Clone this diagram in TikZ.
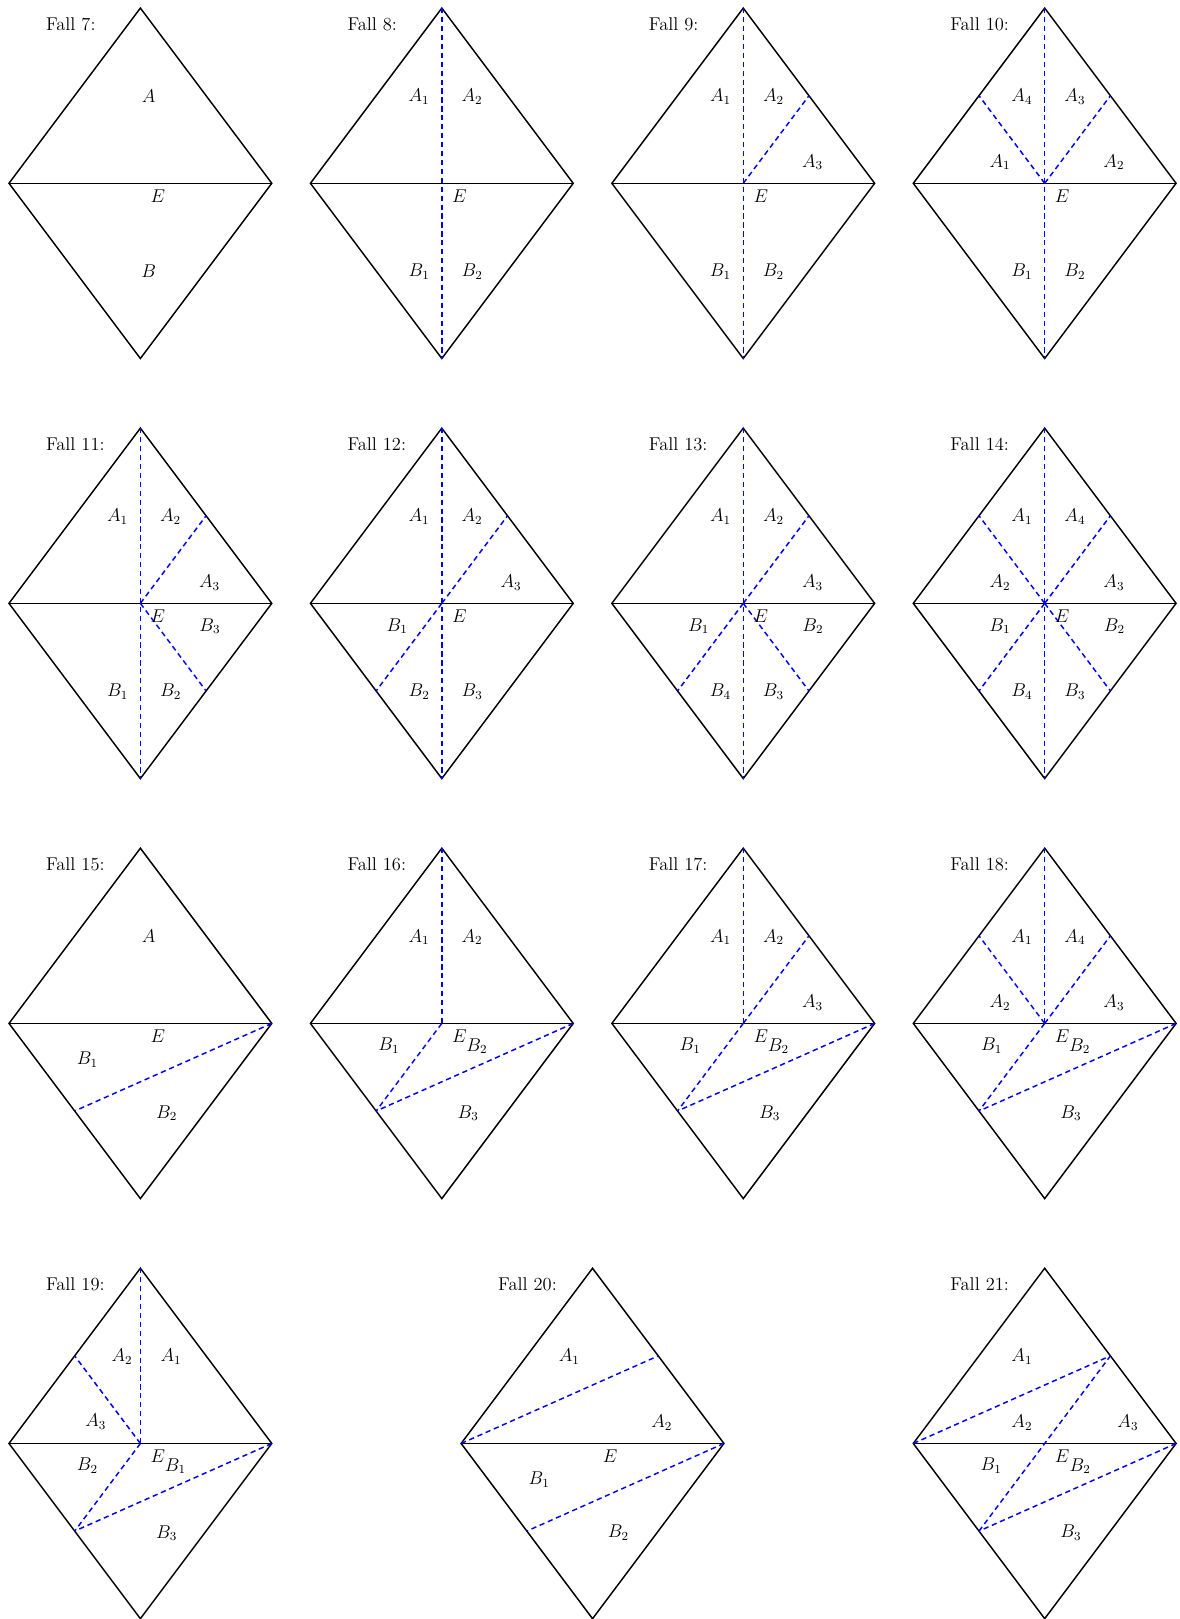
\documentclass[tikz,border=0pt]{standalone}
\usepackage{amsmath}
\usepackage{xcolor}
\usepackage{tikz}
\usetikzlibrary{calc}

% frame of one case: corners, centre, edge midpoints, outline and title
\newcommand{\falldiamond}[1]{%
    \coordinate (L) at (-3,0);
    \coordinate (T) at (0,4);
    \coordinate (R) at (3,0);
    \coordinate (D) at (0,-4);
    \coordinate (E) at (0,0);
    \coordinate (UL) at ($(L)!0.5!(T)$);
    \coordinate (UR) at ($(T)!0.5!(R)$);
    \coordinate (LL) at ($(L)!0.5!(D)$);
    \coordinate (LR) at ($(D)!0.5!(R)$);
    \draw[outline] (L) -- (T) -- (R) -- (D) -- cycle;
    \draw[outline] (L) -- (R);
    \node[falltitle] (title#1) at (-2.16,3.5) {Fall #1:};
}

\begin{document}
\begin{tikzpicture}[
    outline/.style={
        draw=black,
        line width=0.95pt,
        line join=miter
    },
    cutline/.style={
        draw=blue,
        line width=0.95pt,
        dash pattern=on 3.4pt off 2.4pt
    },
    falltitle/.style={
        anchor=base west,
        inner sep=0pt,
        font=\fontsize{12}{14}\selectfont
    },
    region/.style={
        inner sep=1pt,
        font=\fontsize{11.5}{13}\selectfont
    }
]

\useasboundingbox (0,0) rectangle (26.918,-36.963);

% row 1
\begin{scope}[shift={(3.205,-4.185)}]
    \falldiamond{7}
    \node[region] (f7a) at (0.19,2) {$A$};
    \node[region] (f7e) at (0.40,-0.30) {$E$};
    \node[region] (f7b) at (0.19,-2) {$B$};
\end{scope}

\begin{scope}[shift={(10.087,-4.185)}]
    \falldiamond{8}
    \draw[cutline] (T) -- (D);
    \node[region] (f8a1) at (-0.52,1.97) {$A_1$};
    \node[region] (f8a2) at (0.69,1.97) {$A_2$};
    \node[region] (f8e) at (0.40,-0.30) {$E$};
    \node[region] (f8b1) at (-0.52,-2.02) {$B_1$};
    \node[region] (f8b2) at (0.69,-2.02) {$B_2$};
\end{scope}

\begin{scope}[shift={(16.969,-4.185)}]
    \falldiamond{9}
    \draw[cutline] (T) -- (D);
    \draw[cutline] (E) -- (UR);
    \node[region] (f9a1) at (-0.52,1.97) {$A_1$};
    \node[region] (f9a2) at (0.69,1.97) {$A_2$};
    \node[region] (f9a3) at (1.58,0.48) {$A_3$};
    \node[region] (f9e) at (0.40,-0.30) {$E$};
    \node[region] (f9b1) at (-0.52,-2.02) {$B_1$};
    \node[region] (f9b2) at (0.69,-2.02) {$B_2$};
\end{scope}

\begin{scope}[shift={(23.851,-4.185)}]
    \falldiamond{10}
    \draw[cutline] (T) -- (D);
    \draw[cutline] (E) -- (UL);
    \draw[cutline] (E) -- (UR);
    \node[region] (f10a4) at (-0.52,1.97) {$A_4$};
    \node[region] (f10a3) at (0.69,1.97) {$A_3$};
    \node[region] (f10a1) at (-1.02,0.48) {$A_1$};
    \node[region] (f10a2) at (1.58,0.48) {$A_2$};
    \node[region] (f10e) at (0.40,-0.30) {$E$};
    \node[region] (f10b1) at (-0.52,-2.02) {$B_1$};
    \node[region] (f10b2) at (0.69,-2.02) {$B_2$};
\end{scope}

% row 2
\begin{scope}[shift={(3.205,-13.775)}]
    \falldiamond{11}
    \draw[cutline] (T) -- (D);
    \draw[cutline] (E) -- (UR);
    \draw[cutline] (E) -- (LR);
    \node[region] (f11a1) at (-0.52,1.97) {$A_1$};
    \node[region] (f11a2) at (0.69,1.97) {$A_2$};
    \node[region] (f11a3) at (1.58,0.48) {$A_3$};
    \node[region] (f11e) at (0.40,-0.30) {$E$};
    \node[region] (f11b3) at (1.59,-0.52) {$B_3$};
    \node[region] (f11b1) at (-0.52,-2.02) {$B_1$};
    \node[region] (f11b2) at (0.69,-2.02) {$B_2$};
\end{scope}

\begin{scope}[shift={(10.087,-13.775)}]
    \falldiamond{12}
    \draw[cutline] (T) -- (D);
    \draw[cutline] (E) -- (UR);
    \draw[cutline] (E) -- (LL);
    \node[region] (f12a1) at (-0.52,1.97) {$A_1$};
    \node[region] (f12a2) at (0.69,1.97) {$A_2$};
    \node[region] (f12a3) at (1.58,0.48) {$A_3$};
    \node[region] (f12b1) at (-1.02,-0.52) {$B_1$};
    \node[region] (f12e) at (0.40,-0.30) {$E$};
    \node[region] (f12b2) at (-0.52,-2.02) {$B_2$};
    \node[region] (f12b3) at (0.69,-2.02) {$B_3$};
\end{scope}

\begin{scope}[shift={(16.969,-13.775)}]
    \falldiamond{13}
    \draw[cutline] (T) -- (D);
    \draw[cutline] (E) -- (UR);
    \draw[cutline] (E) -- (LL);
    \draw[cutline] (E) -- (LR);
    \node[region] (f13a1) at (-0.52,1.97) {$A_1$};
    \node[region] (f13a2) at (0.69,1.97) {$A_2$};
    \node[region] (f13a3) at (1.58,0.48) {$A_3$};
    \node[region] (f13b1) at (-1.02,-0.52) {$B_1$};
    \node[region] (f13e) at (0.40,-0.30) {$E$};
    \node[region] (f13b2) at (1.59,-0.52) {$B_2$};
    \node[region] (f13b4) at (-0.52,-2.02) {$B_4$};
    \node[region] (f13b3) at (0.69,-2.02) {$B_3$};
\end{scope}

\begin{scope}[shift={(23.851,-13.775)}]
    \falldiamond{14}
    \draw[cutline] (T) -- (D);
    \draw[cutline] (E) -- (UL);
    \draw[cutline] (E) -- (UR);
    \draw[cutline] (E) -- (LL);
    \draw[cutline] (E) -- (LR);
    \node[region] (f14a1) at (-0.52,1.97) {$A_1$};
    \node[region] (f14a4) at (0.69,1.97) {$A_4$};
    \node[region] (f14a2) at (-1.02,0.48) {$A_2$};
    \node[region] (f14a3) at (1.58,0.48) {$A_3$};
    \node[region] (f14b1) at (-1.02,-0.52) {$B_1$};
    \node[region] (f14e) at (0.40,-0.30) {$E$};
    \node[region] (f14b2) at (1.59,-0.52) {$B_2$};
    \node[region] (f14b4) at (-0.52,-2.02) {$B_4$};
    \node[region] (f14b3) at (0.69,-2.02) {$B_3$};
\end{scope}

% row 3
\begin{scope}[shift={(3.205,-23.365)}]
    \falldiamond{15}
    \draw[cutline] (R) -- (LL);
    \node[region] (f15a) at (0.19,2) {$A$};
    \node[region] (f15e) at (0.40,-0.30) {$E$};
    \node[region] (f15b1) at (-1.21,-0.83) {$B_1$};
    \node[region] (f15b2) at (0.60,-2.05) {$B_2$};
\end{scope}

\begin{scope}[shift={(10.087,-23.365)}]
    \falldiamond{16}
    \draw[cutline] (T) -- (E);
    \draw[cutline] (E) -- (LL);
    \draw[cutline] (R) -- (LL);
    \node[region] (f16a1) at (-0.52,1.97) {$A_1$};
    \node[region] (f16a2) at (0.69,1.97) {$A_2$};
    \node[region] (f16b1) at (-1.21,-0.51) {$B_1$};
    \node[region] (f16e) at (0.40,-0.30) {$E$};
    \node[region] (f16b2) at (0.80,-0.52) {$B_2$};
    \node[region] (f16b3) at (0.60,-2.05) {$B_3$};
\end{scope}

\begin{scope}[shift={(16.969,-23.365)}]
    \falldiamond{17}
    \draw[cutline] (T) -- (E);
    \draw[cutline] (E) -- (UR);
    \draw[cutline] (E) -- (LL);
    \draw[cutline] (R) -- (LL);
    \node[region] (f17a1) at (-0.52,1.97) {$A_1$};
    \node[region] (f17a2) at (0.69,1.97) {$A_2$};
    \node[region] (f17a3) at (1.58,0.48) {$A_3$};
    \node[region] (f17b1) at (-1.21,-0.51) {$B_1$};
    \node[region] (f17e) at (0.40,-0.30) {$E$};
    \node[region] (f17b2) at (0.80,-0.52) {$B_2$};
    \node[region] (f17b3) at (0.60,-2.05) {$B_3$};
\end{scope}

\begin{scope}[shift={(23.851,-23.365)}]
    \falldiamond{18}
    \draw[cutline] (T) -- (E);
    \draw[cutline] (E) -- (UL);
    \draw[cutline] (E) -- (UR);
    \draw[cutline] (E) -- (LL);
    \draw[cutline] (R) -- (LL);
    \node[region] (f18a1) at (-0.52,1.97) {$A_1$};
    \node[region] (f18a4) at (0.69,1.97) {$A_4$};
    \node[region] (f18a2) at (-1.02,0.48) {$A_2$};
    \node[region] (f18a3) at (1.58,0.48) {$A_3$};
    \node[region] (f18b1) at (-1.21,-0.51) {$B_1$};
    \node[region] (f18e) at (0.40,-0.30) {$E$};
    \node[region] (f18b2) at (0.80,-0.52) {$B_2$};
    \node[region] (f18b3) at (0.60,-2.05) {$B_3$};
\end{scope}

% row 4
\begin{scope}[shift={(3.205,-32.955)}]
    \falldiamond{19}
    \draw[cutline] (T) -- (E);
    \draw[cutline] (E) -- (UL);
    \draw[cutline] (E) -- (LL);
    \draw[cutline] (R) -- (LL);
    \node[region] (f19a2) at (-0.42,1.98) {$A_2$};
    \node[region] (f19a1) at (0.70,1.98) {$A_1$};
    \node[region] (f19a3) at (-1.02,0.49) {$A_3$};
    \node[region] (f19b2) at (-1.21,-0.51) {$B_2$};
    \node[region] (f19e) at (0.40,-0.30) {$E$};
    \node[region] (f19b1) at (0.80,-0.52) {$B_1$};
    \node[region] (f19b3) at (0.60,-2.05) {$B_3$};
\end{scope}

\begin{scope}[shift={(13.528,-32.955)}]
    \falldiamond{20}
    \draw[cutline] (L) -- (UR);
    \draw[cutline] (R) -- (LL);
    \node[region] (f20a1) at (-0.53,1.98) {$A_1$};
    \node[region] (f20a2) at (1.58,0.47) {$A_2$};
    \node[region] (f20e) at (0.40,-0.30) {$E$};
    \node[region] (f20b1) at (-1.22,-0.82) {$B_1$};
    \node[region] (f20b2) at (0.59,-2.04) {$B_2$};
\end{scope}

\begin{scope}[shift={(23.851,-32.955)}]
    \falldiamond{21}
    \draw[cutline] (L) -- (UR);
    \draw[cutline] (LL) -- (UR);
    \draw[cutline] (R) -- (LL);
    \node[region] (f21a1) at (-0.52,1.98) {$A_1$};
    \node[region] (f21a2) at (-0.52,0.47) {$A_2$};
    \node[region] (f21a3) at (1.90,0.47) {$A_3$};
    \node[region] (f21b1) at (-1.22,-0.50) {$B_1$};
    \node[region] (f21e) at (0.40,-0.30) {$E$};
    \node[region] (f21b2) at (0.81,-0.52) {$B_2$};
    \node[region] (f21b3) at (0.60,-2.04) {$B_3$};
\end{scope}

\end{tikzpicture}
\end{document}
